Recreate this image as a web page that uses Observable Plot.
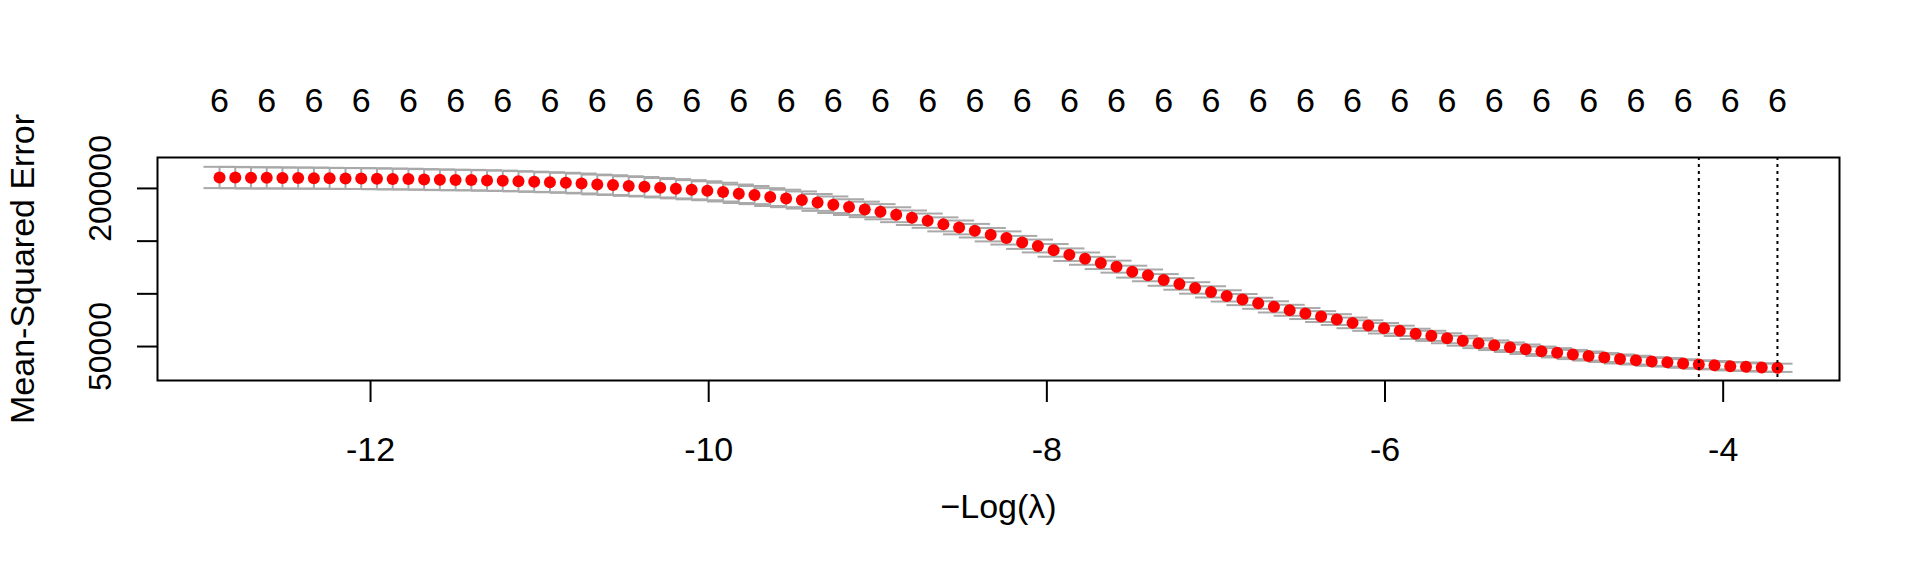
<!DOCTYPE html>
<html><head><meta charset="utf-8">
<script src="https://cdn.jsdelivr.net/npm/d3@7"></script>
<script src="https://cdn.jsdelivr.net/npm/@observablehq/plot@0.6"></script>
<style>html,body{margin:0;padding:0;background:#fff;} #chart svg{display:block}</style>
</head><body><div id="chart"></div>
<script>
const logLambda = [
-12.893,-12.800,-12.707,-12.614,-12.521,-12.428,-12.335,-12.242,-12.148,-12.055,
-11.962,-11.869,-11.776,-11.683,-11.590,-11.497,-11.404,-11.311,-11.218,-11.125,
-11.032,-10.939,-10.845,-10.752,-10.659,-10.566,-10.473,-10.380,-10.287,-10.194,
-10.101,-10.008,-9.915,-9.822,-9.729,-9.636,-9.542,-9.449,-9.356,-9.263,
-9.170,-9.077,-8.984,-8.891,-8.798,-8.705,-8.612,-8.519,-8.426,-8.332,
-8.239,-8.146,-8.053,-7.960,-7.867,-7.774,-7.681,-7.588,-7.495,-7.402,
-7.309,-7.216,-7.123,-7.029,-6.936,-6.843,-6.750,-6.657,-6.564,-6.471,
-6.378,-6.285,-6.192,-6.099,-6.006,-5.913,-5.819,-5.726,-5.633,-5.540,
-5.447,-5.354,-5.261,-5.168,-5.075,-4.982,-4.889,-4.796,-4.703,-4.610,
-4.516,-4.423,-4.330,-4.237,-4.144,-4.051,-3.958,-3.865,-3.772,-3.679];
const mse = [
210400,210300,210100,210050,209900,209800,209750,209600,209450,209350,
209150,208950,208850,208500,208200,208000,207900,207550,207250,206800,
206300,205850,205350,204700,203750,203200,202250,201600,200650,199700,
198750,197800,196550,194950,193700,191800,190500,189000,186700,184550,
182350,180100,177900,175050,172200,169400,165900,163000,159900,156100,
153000,148800,145400,141250,137150,133350,129300,125800,121050,117550,
113200,109400,105600,101850,98050,94550,91050,87650,84400,81300,
78450,75600,72450,69900,67350,64900,62050,60150,57900,55500,
53150,51250,49350,47450,45550,44050,42450,41000,39600,38200,
37050,35800,35050,33900,32950,32300,31350,30800,30150,29850];
const mseSd = [
10100,10100,10050,10050,10000,10000,10000,9950,9950,9900,
9900,9850,9850,9800,9800,9750,9700,9700,9650,9600,
9600,9550,9500,9450,9400,9350,9300,9250,9200,9150,
9100,9000,8900,8750,8600,8450,8300,8150,8000,7850,
7500,7350,7200,7050,6900,6750,6650,6550,6450,6350,
6250,6150,6100,6000,5950,5850,5800,5700,5650,5600,
5550,5500,5450,5400,5350,5300,5250,5250,5200,5200,
5150,5100,5050,5000,4950,4900,4850,4800,4750,4700,
4650,4600,4550,4500,4450,4400,4350,4300,4250,4200,
4150,4100,4100,4050,4050,4000,4000,3950,3950,3900];
const nzero = [
6,6,6,6,6,6,6,6,6,6, 6,6,6,6,6,6,6,6,6,6, 6,6,6,6,6,6,6,6,6,6, 6,6,6,6,6,6,6,6,6,6,
6,6,6,6,6,6,6,6,6,6, 6,6,6,6,6,6,6,6,6,6, 6,6,6,6,6,6,6,6,6,6, 6,6,6,6,6,6,6,6,6,6,
6,6,6,6,6,6,6,6,6,6, 6,6,6,6,6,6,6,6,6,6];
const xTicks = [-12,-10,-8,-6,-4];
const yTicks = [50000,100000,150000,200000];
const yTickLabels = ["50000","","","200000"];
const lambda1seIndex = 94, lambdaMinIndex = 99;
const xTitle = "\u2212Log(\u03bb)";
const yTitle = "Mean-Squared Error";

const data = logLambda.map((x,i)=>({i, x, y: mse[i], lo: mse[i]-mseSd[i], hi: mse[i]+mseSd[i], nz: nzero[i]}));
const barw = (d3.max(logLambda)-d3.min(logLambda))*0.01;
const caps = data.flatMap(d=>[{x1:d.x-barw,x2:d.x+barw,y:d.hi},{x1:d.x-barw,x2:d.x+barw,y:d.lo}]);
const topLabels = data.filter(d=>d.i%3===0);
const vlines = [logLambda[lambda1seIndex], logLambda[lambdaMinIndex]];
const yLabelData = yTicks.map((v,i)=>({v, t:yTickLabels[i]})).filter(d=>d.t);

const font = "'Liberation Sans', Arial, Helvetica, sans-serif";
const plot = Plot.plot({
  width:1920, height:576,
  marginLeft:157, marginRight:81, marginTop:157, marginBottom:196,
  style:{fontFamily:font, background:"#fff", color:"#000", overflow:"visible"},
  x:{domain:[-13.260,-3.312], label:null},
  y:{domain:[17790,229340], label:null},
  marks:[
    Plot.ruleX(data,{x:"x", y1:"lo", y2:"hi", stroke:"#a9a9a9", strokeWidth:2}),
    Plot.ruleY(caps,{x1:"x1", x2:"x2", y:"y", stroke:"#a9a9a9", strokeWidth:2}),
    Plot.dot(data,{x:"x", y:"y", r:6, fill:"#ff0000", stroke:null}),
    Plot.ruleX(vlines,{stroke:"#000", strokeWidth:2, strokeDasharray:"3,4"}),
    Plot.frame({stroke:"#000", strokeWidth:2}),
    Plot.axisX({ticks:xTicks, tickSize:22, tickFormat:()=>"", label:null, strokeWidth:2}),
    Plot.text(xTicks,{x:d=>d, text:d=>String(d), frameAnchor:"bottom", dy:70, fontSize:34, textAnchor:"middle", lineAnchor:"middle", fill:"#000"}),
    Plot.axisY({ticks:yTicks, tickSize:20, tickFormat:()=>"", label:null, strokeWidth:2}),
    Plot.text(yLabelData,{y:"v", text:"t", frameAnchor:"left", dx:-57, rotate:-90, fontSize:32, textAnchor:"middle", lineAnchor:"middle", fill:"#000"}),
    Plot.text(topLabels,{x:"x", text:d=>String(d.nz), frameAnchor:"top", dy:-56, fontSize:34, textAnchor:"middle", lineAnchor:"middle", fill:"#000"}),
    Plot.text([xTitle],{text:d=>d, frameAnchor:"bottom", dy:127, fontSize:34, textAnchor:"middle", lineAnchor:"middle", fill:"#000"}),
    Plot.text([yTitle],{text:d=>d, frameAnchor:"left", dx:-134, rotate:-90, fontSize:34, textAnchor:"middle", lineAnchor:"middle", fill:"#000"})
  ]
});
document.getElementById("chart").appendChild(plot);
</script>
</body></html>
